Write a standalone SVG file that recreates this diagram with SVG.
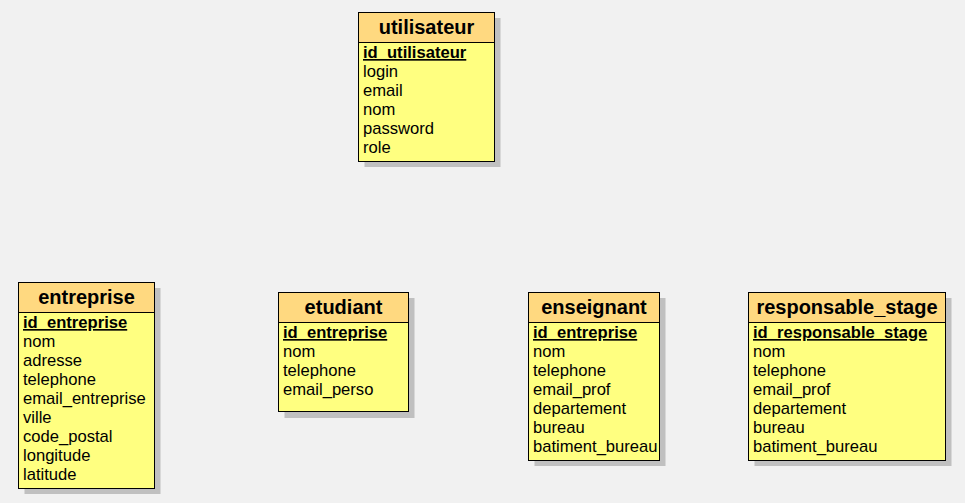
<svg xmlns="http://www.w3.org/2000/svg" width="965" height="503" viewBox="0 0 965 503">
<style>
.bg{fill:#f1f1f1}
.sh{fill:#c0c0c0}
.hd{fill:#ffd980;stroke:#000;stroke-width:1}
.bd{fill:#ffff80;stroke:#000;stroke-width:1}
.tt{font-family:"Liberation Sans",Arial,sans-serif;font-size:20px;font-weight:bold;fill:#000;text-anchor:middle}
.at{font-family:"Liberation Sans",Arial,sans-serif;font-size:16.6px;fill:#000}
.pk{font-weight:bold;text-decoration:underline}
</style>
<rect class="bg" x="0" y="0" width="965" height="503"/>
<g id="connectors"></g>
<g id="utilisateur">
<rect class="sh" x="364.5" y="18" width="136" height="149"/>
<rect class="bd" x="358.5" y="42.5" width="136" height="119"/>
<rect class="hd" x="358.5" y="12.5" width="136" height="30"/>
<text class="tt" x="426.5" y="34">utilisateur</text>
<text class="at pk" x="363" y="58">id_utilisateur</text>
<text class="at" x="363" y="77">login</text>
<text class="at" x="363" y="96">email</text>
<text class="at" x="363" y="115">nom</text>
<text class="at" x="363" y="134">password</text>
<text class="at" x="363" y="153">role</text>
</g>
<g id="entreprise">
<rect class="sh" x="24.5" y="288" width="136" height="206"/>
<rect class="bd" x="18.5" y="312.5" width="136" height="176"/>
<rect class="hd" x="18.5" y="282.5" width="136" height="30"/>
<text class="tt" x="86.5" y="304">entreprise</text>
<text class="at pk" x="23" y="328">id_entreprise</text>
<text class="at" x="23" y="347">nom</text>
<text class="at" x="23" y="366">adresse</text>
<text class="at" x="23" y="385">telephone</text>
<text class="at" x="23" y="404">email_entreprise</text>
<text class="at" x="23" y="423">ville</text>
<text class="at" x="23" y="442">code_postal</text>
<text class="at" x="23" y="461">longitude</text>
<text class="at" x="23" y="480">latitude</text>
</g>
<g id="etudiant">
<rect class="sh" x="284.5" y="298" width="130" height="120"/>
<rect class="bd" x="278.5" y="322.5" width="130" height="89"/>
<rect class="hd" x="278.5" y="292.5" width="130" height="30"/>
<text class="tt" x="343.5" y="314">etudiant</text>
<text class="at pk" x="283" y="338">id_entreprise</text>
<text class="at" x="283" y="357">nom</text>
<text class="at" x="283" y="376">telephone</text>
<text class="at" x="283" y="395">email_perso</text>
</g>
<g id="enseignant">
<rect class="sh" x="534.5" y="298" width="131" height="168"/>
<rect class="bd" x="528.5" y="322.5" width="131" height="138"/>
<rect class="hd" x="528.5" y="292.5" width="131" height="30"/>
<text class="tt" x="594" y="314">enseignant</text>
<text class="at pk" x="533" y="338">id_entreprise</text>
<text class="at" x="533" y="357">nom</text>
<text class="at" x="533" y="376">telephone</text>
<text class="at" x="533" y="395">email_prof</text>
<text class="at" x="533" y="414">departement</text>
<text class="at" x="533" y="433">bureau</text>
<text class="at" x="533" y="452">batiment_bureau</text>
</g>
<g id="responsable_stage">
<rect class="sh" x="754.5" y="298" width="197" height="168"/>
<rect class="bd" x="748.5" y="322.5" width="197" height="138"/>
<rect class="hd" x="748.5" y="292.5" width="197" height="30"/>
<text class="tt" x="847" y="314">responsable_stage</text>
<text class="at pk" x="753" y="338">id_responsable_stage</text>
<text class="at" x="753" y="357">nom</text>
<text class="at" x="753" y="376">telephone</text>
<text class="at" x="753" y="395">email_prof</text>
<text class="at" x="753" y="414">departement</text>
<text class="at" x="753" y="433">bureau</text>
<text class="at" x="753" y="452">batiment_bureau</text>
</g>
</svg>
